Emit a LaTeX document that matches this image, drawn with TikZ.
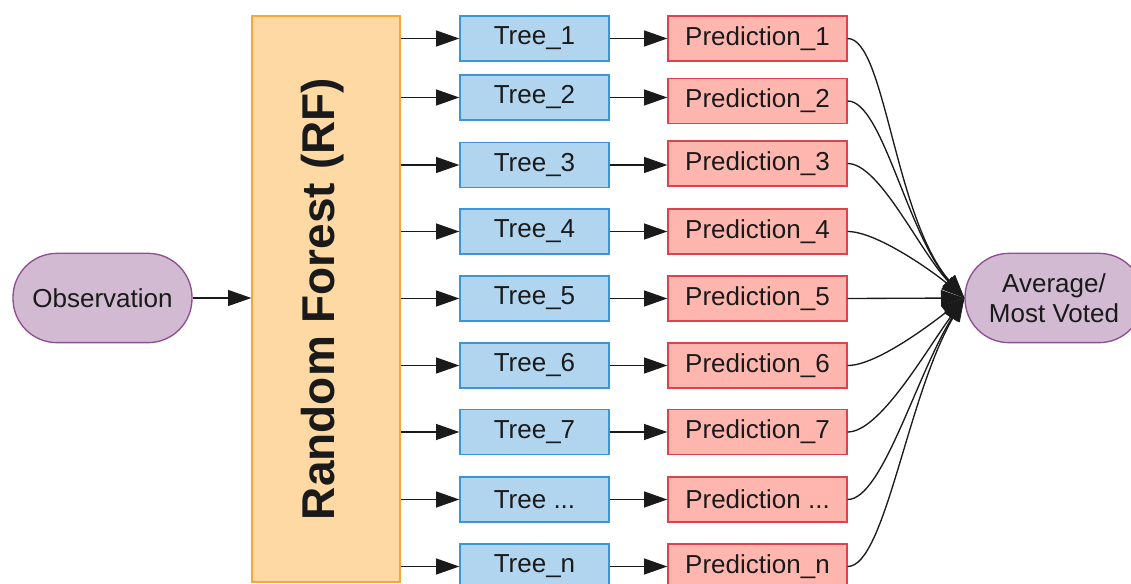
\documentclass[tikz,border=0pt]{standalone}
\usepackage{fontspec}
\setmainfont{Liberation Sans}
\usetikzlibrary{arrows.meta}
\definecolor{rfFill}{HTML}{FFD9A3}
\definecolor{rfLine}{HTML}{F7A73A}
\definecolor{treeFill}{HTML}{B1D5EF}
\definecolor{treeLine}{HTML}{3A96D6}
\definecolor{predFill}{HTML}{FFB6AE}
\definecolor{predLine}{HTML}{DF424B}
\definecolor{pillFill}{HTML}{D3BAD3}
\definecolor{pillLine}{HTML}{8F4E92}
\definecolor{ink}{HTML}{1A1A1A}
\begin{document}
\begin{tikzpicture}[x=0.75pt,y=-0.75pt,
  base/.style={draw, line width=1pt, inner sep=0pt, align=center, text=ink,
    font=\fontsize{19.5}{22.5}\selectfont},
  treebox/.style={base, fill=treeFill, draw=treeLine, minimum width=111.75pt, minimum height=33.75pt},
  predbox/.style={base, fill=predFill, draw=predLine, minimum width=134.25pt, minimum height=33.75pt},
  pill/.style={base, fill=pillFill, draw=pillLine, rounded corners=33pt, minimum height=67pt},
  rfbox/.style={base, fill=rfFill, draw=rfLine, minimum width=111pt, minimum height=424.5pt},
  link/.style={line width=1pt, draw=ink, -{Triangle[length=17.5pt,width=12pt]}},
  fan/.style={link, out=0},
]
\useasboundingbox (0,0) rectangle (1131,584);
\clip (0,0) rectangle (1131,584);

% input, forest and output
\node[pill, minimum width=134.25pt] (obs) at (102.5,298) {Observation};
\node[rfbox] (rf) at (326,299) {};
\node[rotate=90, text=ink, font=\fontsize{34.5}{40}\selectfont\bfseries] (rflabel) at (323,299) {Random Forest (RF)};
\node[pill, minimum width=133.5pt] (avg) at (1054,298) {Average/\\Most Voted};

% trees
\node[treebox] (t1) at (534.5,38.5) {Tree\_1};
\node[treebox] (t2) at (534.5,97.5) {Tree\_2};
\node[treebox] (t3) at (534.5,165) {Tree\_3};
\node[treebox] (t4) at (534.5,231.5) {Tree\_4};
\node[treebox] (t5) at (534.5,298.5) {Tree\_5};
\node[treebox] (t6) at (534.5,365.5) {Tree\_6};
\node[treebox] (t7) at (534.5,432) {Tree\_7};
\node[treebox] (t8) at (534.5,499.5) {Tree ...};
\node[treebox] (t9) at (534.5,566.5) {Tree\_n};

% predictions
\node[predbox] (p1) at (757.5,38.5) {Prediction\_1};
\node[predbox] (p2) at (757.5,101) {Prediction\_2};
\node[predbox] (p3) at (757.5,163.5) {Prediction\_3};
\node[predbox] (p4) at (757.5,231.5) {Prediction\_4};
\node[predbox] (p5) at (757.5,298.5) {Prediction\_5};
\node[predbox] (p6) at (757.5,365.5) {Prediction\_6};
\node[predbox] (p7) at (757.5,432) {Prediction\_7};
\node[predbox] (p8) at (757.5,499.5) {Prediction ...};
\node[predbox] (p9) at (757.5,566.5) {Prediction\_n};

% observation into the forest
\draw[link] (obs.east) -- (obs.east -| rf.west);

% forest to trees, trees to predictions
\foreach \k in {1,...,9} {
  \draw[link] (rf.east |- t\k.west) -- (t\k.west);
  \draw[link] (t\k.east) -- (t\k.east -| p\k.west);
}

% predictions gathered into the final vote
\draw[fan] (p1.east) to[out distance=28pt, in=131, in distance=80pt] (avg.west);
\draw[fan] (p2.east) to[out distance=26pt, in=132, in distance=64pt] (avg.west);
\draw[fan] (p3.east) to[out distance=24pt, in=134, in distance=48pt] (avg.west);
\draw[fan] (p4.east) to[out distance=22pt, in=140, in distance=30pt] (avg.west);
\draw[link] (p5.east) -- (avg.west);
\draw[fan] (p6.east) to[out distance=22pt, in=218, in distance=30pt] (avg.west);
\draw[fan] (p7.east) to[out distance=24pt, in=234, in distance=50pt] (avg.west);
\draw[fan] (p8.east) to[out distance=26pt, in=238, in distance=68pt] (avg.west);
\draw[fan] (p9.east) to[out distance=28pt, in=240, in distance=86pt] (avg.west);
\end{tikzpicture}
\end{document}
